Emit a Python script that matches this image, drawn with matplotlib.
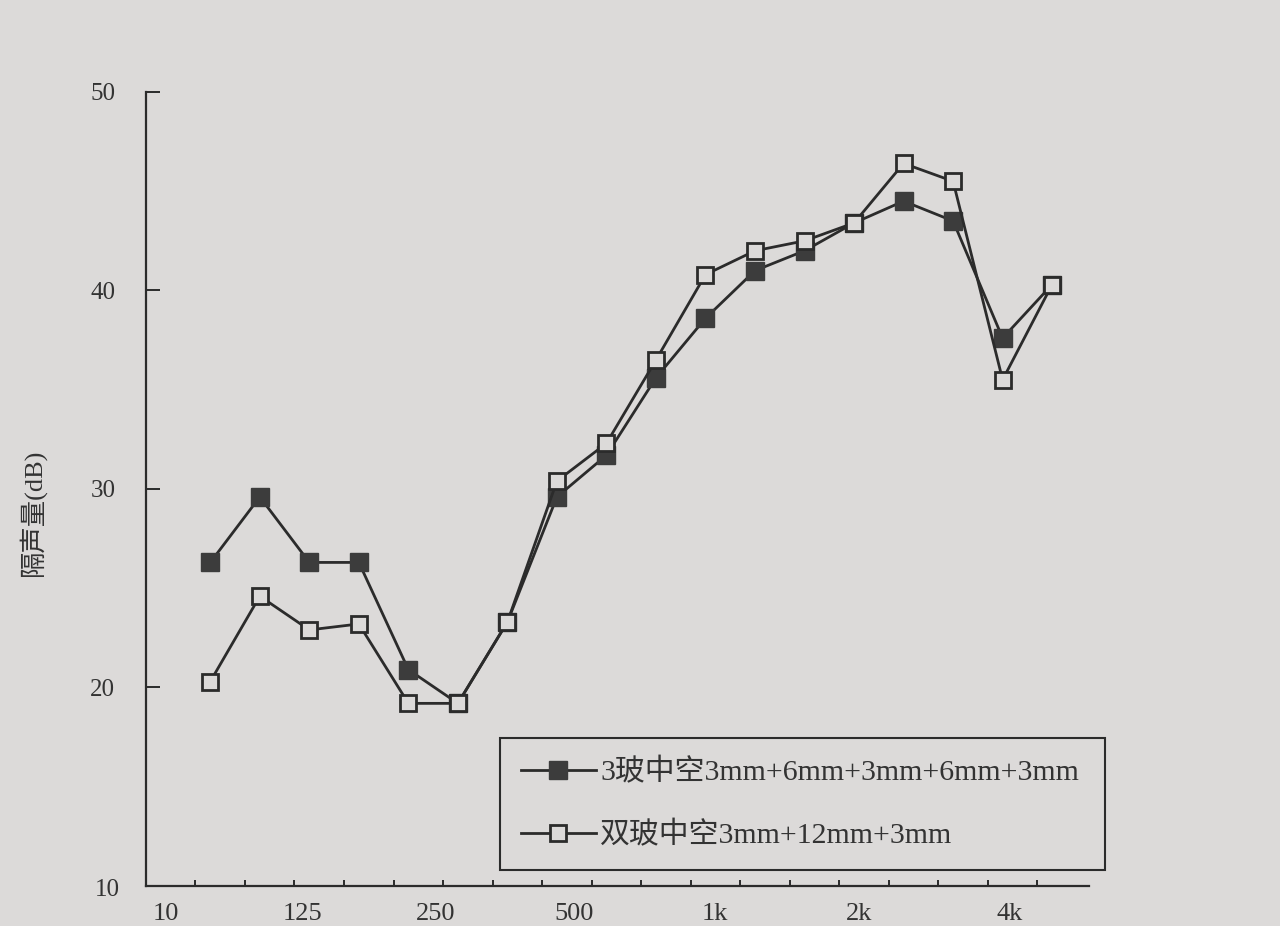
import numpy as np
import matplotlib
matplotlib.use("Agg")
import matplotlib.pyplot as plt

plt.rcParams['font.family'] = ['Liberation Serif', 'Noto Sans CJK SC', 'DejaVu Sans']

# 1/3 octave bands, 100 Hz .. 5 kHz
bands = [100, 125, 160, 200, 250, 315, 400, 500, 630, 800,
         1000, 1250, 1600, 2000, 2500, 3150, 4000, 5000]
triple = [26.3, 29.6, 26.3, 26.3, 20.9, 19.2, 23.3, 29.6, 31.7, 35.6,
          38.6, 41.0, 42.0, 43.4, 44.5, 43.5, 37.6, 40.3]
double = [20.3, 24.6, 22.9, 23.2, 19.2, 19.2, 23.3, 30.4, 32.3, 36.5,
          40.8, 42.0, 42.5, 43.4, 46.4, 45.5, 35.5, 40.3]
label_triple = "3玻中空3mm+6mm+3mm+6mm+3mm"
label_double = "双玻中空3mm+12mm+3mm"
xlabels = ["10", "125", "250", "500", "1k", "2k", "4k"]
ylabel = "隔声量(dB)"

bg = "#dcdad9"
ink = "#2b2b2b"

fig = plt.figure(figsize=(12.8, 9.26), dpi=100, facecolor=bg)
ax = fig.add_axes([0.114, 0.0432, 0.737, 0.8575], facecolor=bg)

x = np.arange(len(bands)) + 0.3
ax.plot(x, triple, color=ink, lw=2, marker="s", ms=12.5,
        mfc="#3c3c3c", mec="#3c3c3c", label=label_triple, zorder=3)
ax.plot(x, double, color=ink, lw=2, marker="s", ms=11,
        mfc=bg, mec=ink, mew=2, label=label_double, zorder=4)

ax.set_xlim(-1, 18.05)
ax.set_ylim(10, 50)
for s in ("top", "right"):
    ax.spines[s].set_visible(False)
for s in ("left", "bottom"):
    ax.spines[s].set_color(ink)
    ax.spines[s].set_linewidth(1.6)

ax.set_yticks([20, 30, 40, 50])
ax.tick_params(axis="y", direction="in", length=10, width=1.4, color=ink,
               labelsize=18, pad=22, labelcolor="#333333")
ax.text(-0.028, -0.005, "10", transform=ax.transAxes, ha="right", va="center",
        fontsize=18, color="#333333")

ax.set_xticks(np.arange(0, 18), minor=True)
ax.set_xticks([-0.6, 2.17, 4.86, 7.65, 10.49, 13.4, 16.44], xlabels)
ax.tick_params(axis="x", which="major", length=0, labelsize=19, pad=12,
               labelcolor="#333333")
ax.tick_params(axis="x", which="minor", direction="in", length=4, width=1.4,
               color=ink)

fig.text(0.025, 1 - 512 / 926, ylabel, rotation=90, ha="center", va="center",
         fontsize=19, color="#333333")

leg = ax.legend(loc="lower left",
                bbox_to_anchor=(500 / 1280, 1 - 870 / 926, 605 / 1280, 0.1),
                bbox_transform=fig.transFigure, mode="expand", fontsize=21.5,
                frameon=True, fancybox=False, edgecolor=ink, facecolor=bg,
                framealpha=1, handlelength=2.5, handletextpad=0.15,
                borderpad=0.7, labelspacing=1.15, borderaxespad=0)
leg.get_frame().set_linewidth(1.5)
for t in leg.get_texts():
    t.set_color("#333333")

fig.savefig("out.png", dpi=100, facecolor=bg)
